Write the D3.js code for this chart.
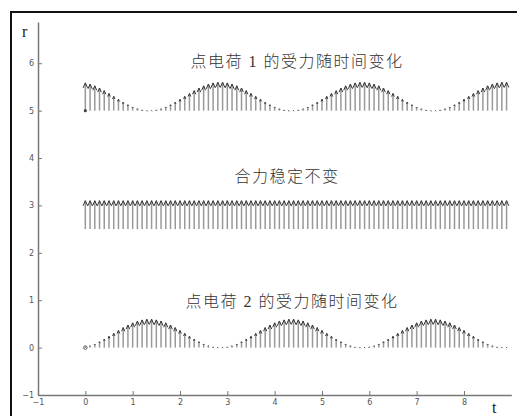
<!DOCTYPE html>
<html>
<head>
<meta charset="utf-8">
<script src="https://cdn.jsdelivr.net/npm/d3@7"></script>
<style>
body{margin:0;background:#fff;}
</style>
</head>
<body>
<div id="chart"></div>
<script>
(function(){
var width = 517,
	height = 416,
	dt = 0.1;

// arrow lengths, one every 0.1 s from t=0 to t=8.9
var force1 = [
	0.585,0.560,0.523,0.476,0.422,0.362,0.300,0.238,0.178,0.124,0.077,0.040,0.015,0.002,0.002,
	0.015,0.040,0.077,0.124,0.178,0.238,0.300,0.362,0.422,0.476,0.523,0.560,0.585,0.597,0.597,
	0.585,0.560,0.523,0.476,0.422,0.362,0.300,0.238,0.178,0.124,0.077,0.040,0.015,0.002,0.002,
	0.015,0.040,0.077,0.124,0.178,0.238,0.300,0.362,0.422,0.476,0.523,0.560,0.585,0.597,0.597,
	0.585,0.560,0.523,0.476,0.422,0.362,0.300,0.238,0.178,0.124,0.077,0.040,0.015,0.002,0.002,
	0.015,0.040,0.077,0.124,0.178,0.238,0.300,0.362,0.422,0.476,0.523,0.560,0.585,0.597,0.597];
var force2 = [
	0.015,0.040,0.077,0.124,0.178,0.238,0.300,0.362,0.422,0.476,0.523,0.560,0.585,0.598,0.598,
	0.585,0.560,0.523,0.476,0.422,0.362,0.300,0.238,0.178,0.124,0.077,0.040,0.015,0.003,0.003,
	0.015,0.040,0.077,0.124,0.178,0.238,0.300,0.362,0.422,0.476,0.523,0.560,0.585,0.598,0.598,
	0.585,0.560,0.523,0.476,0.422,0.362,0.300,0.238,0.178,0.124,0.077,0.040,0.015,0.003,0.003,
	0.015,0.040,0.077,0.124,0.178,0.238,0.300,0.362,0.422,0.476,0.523,0.560,0.585,0.598,0.598,
	0.585,0.560,0.523,0.476,0.422,0.362,0.300,0.238,0.178,0.124,0.077,0.040,0.015,0.003,0.003];
var total = [
	0.6,0.6,0.6,0.6,0.6,0.6,0.6,0.6,0.6,0.6,0.6,0.6,0.6,0.6,0.6,
	0.6,0.6,0.6,0.6,0.6,0.6,0.6,0.6,0.6,0.6,0.6,0.6,0.6,0.6,0.6,
	0.6,0.6,0.6,0.6,0.6,0.6,0.6,0.6,0.6,0.6,0.6,0.6,0.6,0.6,0.6,
	0.6,0.6,0.6,0.6,0.6,0.6,0.6,0.6,0.6,0.6,0.6,0.6,0.6,0.6,0.6,
	0.6,0.6,0.6,0.6,0.6,0.6,0.6,0.6,0.6,0.6,0.6,0.6,0.6,0.6,0.6,
	0.6,0.6,0.6,0.6,0.6,0.6,0.6,0.6,0.6,0.6,0.6,0.6,0.6,0.6,0.6];

var bases = [5, 2.5, 0];
var series = [force1, total, force2];
var titles = ["点电荷 1 的受力随时间变化", "合力稳定不变", "点电荷 2 的受力随时间变化"];
var titleAt = [[297, 67], [287, 182], [292, 307]];

var xTicks = [-1,0,1,2,3,4,5,6,7,8],
	yTicks = [-1,0,1,2,3,4,5,6];

var X = d3.scaleLinear().domain([-1, 9]).range([38, 511.3]);
var Y = d3.scaleLinear().domain([-1, 6.87]).range([395, 22]);

var svg = d3.select("#chart").append("svg")
	.attr("width", width)
	.attr("height", height);

// figure frame, cut off at the right and bottom edges like the picture
svg.append("rect")
	.attr("x", 11).attr("y", 12)
	.attr("width", 520).attr("height", 420)
	.attr("fill", "none").attr("stroke", "#111").attr("stroke-width", 2);

var gx = svg.append("g").attr("transform", "translate(0," + Y(-1) + ")")
	.call(d3.axisBottom(X).tickValues(xTicks).tickSizeInner(-4).tickSizeOuter(0).tickPadding(4));
var gy = svg.append("g").attr("transform", "translate(" + X(-1) + ",0)")
	.call(d3.axisLeft(Y).tickValues(yTicks).tickSizeInner(-4).tickSizeOuter(0).tickPadding(4));

[gx, gy].forEach(function(g){
	g.select(".domain").attr("stroke", "#777").attr("stroke-width", 1.5);
	g.selectAll(".tick line").attr("stroke", "#777");
	g.selectAll(".tick text").attr("fill", "#555")
		.style("font-family", "DejaVu Sans, sans-serif").style("font-size", "8px");
});

svg.append("text").text("r")
	.attr("x", 22).attr("y", 37)
	.style("font-family", "Liberation Serif, serif").style("font-size", "16px").attr("fill", "#222");
svg.append("text").text("t")
	.attr("x", 492).attr("y", 413)
	.style("font-family", "Liberation Serif, serif").style("font-size", "16px").attr("fill", "#222");

var plot = svg.append("g");

series.forEach(function(vals, s){
	var g = plot.append("g");
	var pts = vals.map(function(v, i){ return {t: i * dt, base: bases[s], len: v}; });

	g.selectAll(".stem").data(pts).enter().append("line")
		.attr("x1", function(d){ return X(d.t); })
		.attr("x2", function(d){ return X(d.t); })
		.attr("y1", function(d){ return Y(d.base); })
		.attr("y2", function(d){ return Y(d.base + d.len); })
		.attr("stroke", "#999").attr("stroke-width", 1.5);

	g.selectAll(".head").data(pts).enter().append("path")
		.attr("d", function(d){
			var x0 = X(d.t), y1 = Y(d.base + d.len);
			var L = Y(d.base) - y1;
			var h = Math.max(0.18 * L, 0.6), w = Math.max(0.08 * L, 0.6);
			return "M" + (x0 - w) + "," + (y1 + h) + "L" + x0 + "," + y1 + "L" + (x0 + w) + "," + (y1 + h);
		})
		.attr("fill", "none").attr("stroke", "#333").attr("stroke-width", 1);

	svg.append("text").text(titles[s])
		.attr("x", titleAt[s][0]).attr("y", titleAt[s][1])
		.attr("text-anchor", "middle")
		.style("font-family", "Liberation Serif, 'Noto Sans CJK SC', serif")
		.style("font-size", "16px").style("font-weight", "300").style("letter-spacing", "1.5px")
		.attr("fill", "#333");
});

// start markers
plot.append("circle").attr("cx", X(0)).attr("cy", Y(bases[0])).attr("r", 1.6)
	.attr("fill", "#444");
plot.append("circle").attr("cx", X(0)).attr("cy", Y(bases[2])).attr("r", 1.8)
	.attr("fill", "none").attr("stroke", "#555").attr("stroke-width", 0.9);
})();
</script>
</body>
</html>
